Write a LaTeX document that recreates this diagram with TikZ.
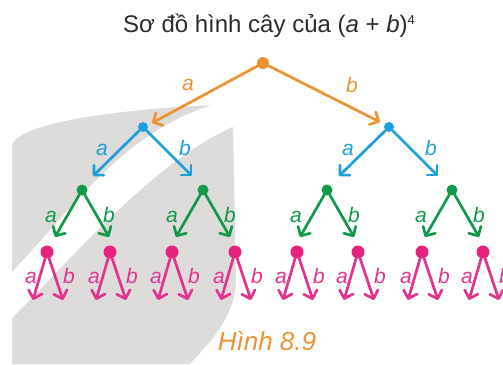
\documentclass[tikz,border=0pt]{standalone}
\usepackage{fontspec}
\setmainfont{Liberation Sans}
\usetikzlibrary{arrows.meta}
\definecolor{cOr}{HTML}{EE9130}
\definecolor{cBl}{HTML}{1E9FDB}
\definecolor{cGr}{HTML}{13994A}
\definecolor{cPk}{HTML}{E2338F}
\definecolor{cPkN}{HTML}{E5237F}
\definecolor{cBg}{HTML}{DDDCDA}
\definecolor{cTitle}{HTML}{2B2B2B}
\tikzset{
  dot/.style={circle,inner sep=0pt,minimum size=#1},
  arr/.style={line width=2.7pt,line cap=round,-{Straight Barb[length=7pt,width=14pt,round]}},
  lbl/.style={anchor=base,font=\fontsize{21}{25}\selectfont\itshape}
}
\begin{document}
\begin{tikzpicture}[x=1pt,y=-1pt]
\useasboundingbox (0,0) rectangle (503,364);
% background leaf
\fill[cBg] (12,364) -- (12,146) .. controls (14,126) and (100,110) .. (215,105) -- (233,124) -- (236,282) .. controls (234,320) and (207,345) .. (190,364) -- cycle;
\fill[white] (8,276) .. controls (70,213) and (120,133) .. (215,104) -- (245,95) -- (245,127) -- (232,127) .. controls (150,165) and (75,255) .. (8,322) -- cycle;
% title
\node[anchor=base,font=\fontsize{24}{29}\selectfont,text=cTitle] (title) at (269,32) {Sơ đồ hình cây của (\textit{a} + \textit{b})\raisebox{8pt}{\fontsize{13}{15}\selectfont 4}};
% root
\node[dot=12pt,fill=cOr] (r) at (263,63) {};
\node[dot=10pt,fill=cBl] (b1) at (143,127) {};
\node[dot=10pt,fill=cBl] (b2) at (389,127) {};
\coordinate (ro1) at (152,123);
\coordinate (ro2) at (380,122);
\draw[arr,cOr] (r) -- (ro1);
\draw[arr,cOr] (r) -- (ro2);
\node[lbl,text=cOr] (la0) at (188,90) {a};
\node[lbl,text=cOr] (lb0) at (352,92) {b};
% blue level
\foreach \i/\x in {1/143,2/389}{
  \coordinate (bt\i a) at (\x-50,176);
  \coordinate (bt\i b) at (\x+49,176);
  \draw[arr,cBl] (b\i) -- (bt\i a);
  \draw[arr,cBl] (b\i) -- (bt\i b);
  \node[lbl,text=cBl] (lba\i) at (\x-41,155) {a};
  \node[lbl,text=cBl] (lbb\i) at (\x+42,155) {b};
}
% green level
\foreach \i/\x in {1/82,2/203,3/327,4/452}{
  \node[dot=11pt,fill=cGr] (g\i) at (\x,190) {};
  \coordinate (gt\i a) at (\x-27,237);
  \coordinate (gt\i b) at (\x+27,237);
  \draw[arr,cGr] (g\i) -- (gt\i a);
  \draw[arr,cGr] (g\i) -- (gt\i b);
  \node[lbl,text=cGr] (lga\i) at (\x-31,222) {a};
  \node[lbl,text=cGr] (lgb\i) at (\x+27,222) {b};
}
% pink level
\foreach \i/\x in {1/47,2/110,3/172,4/235,5/297,6/358,7/422,8/483}{
  \node[dot=13pt,fill=cPkN] (p\i) at (\x,252) {};
  \coordinate (pt\i a) at (\x-14,300);
  \coordinate (pt\i b) at (\x+16,300);
  \draw[arr,cPk] (p\i) -- (pt\i a);
  \draw[arr,cPk] (p\i) -- (pt\i b);
  \node[lbl,text=cPk] (lpa\i) at (\x-16,283) {a};
  \node[lbl,text=cPk] (lpb\i) at (\x+22,283) {b};
}
% caption
\node[anchor=base,font=\fontsize{26}{31}\selectfont\itshape,text=cOr] (cap) at (267,350) {Hình 8.9};
\end{tikzpicture}
\end{document}
